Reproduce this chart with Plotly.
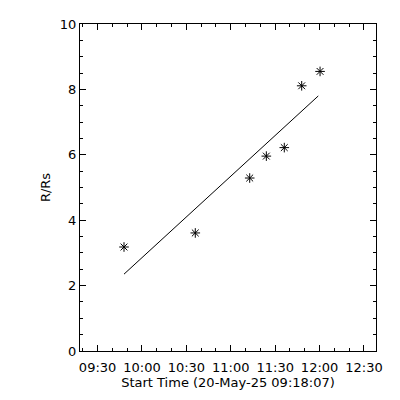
import plotly.graph_objects as go

# Data
obs_times = ["2025-05-20 09:47:51", "2025-05-20 10:36:01", "2025-05-20 11:12:47",
             "2025-05-20 11:24:01", "2025-05-20 11:36:09", "2025-05-20 11:47:55",
             "2025-05-20 12:00:19"]
obs_r = [3.18, 3.61, 5.29, 5.96, 6.22, 8.11, 8.55]

fit_times = ["2025-05-20 09:47:51", "2025-05-20 11:59:07"]
fit_r = [2.35, 7.80]

x_range = ["2025-05-20 09:18:07", "2025-05-20 12:38:07"]
y_range = [0, 10]
x_title = "Start Time (20-May-25 09:18:07)"
y_title = "R/Rs"

font = dict(family="DejaVu Sans", size=13, color="black")

fig = go.Figure()
fig.add_trace(go.Scatter(x=fit_times, y=fit_r, mode="lines",
                         line=dict(color="black", width=1), showlegend=False))
fig.add_trace(go.Scatter(x=obs_times, y=obs_r, mode="markers",
                         marker=dict(symbol="asterisk-open", size=8, color="black",
                                     line=dict(color="black", width=1)),
                         showlegend=False))

axis_common = dict(showgrid=False, zeroline=False, showline=True, linecolor="black",
                   linewidth=1, mirror="allticks", ticks="inside", ticklen=6,
                   tickcolor="black", tickwidth=1, tickfont=font)

fig.update_xaxes(type="date", range=x_range, tick0="2025-05-20 09:30:00",
                 dtick=30 * 60 * 1000, tickformat="%H:%M", ticklabelstandoff=4,
                 minor=dict(dtick=10 * 60 * 1000, ticks="inside", ticklen=3,
                            tickcolor="black", showgrid=False),
                 title=dict(text=x_title, font=font, standoff=2),
                 **axis_common)
fig.update_yaxes(range=y_range, dtick=2, tick0=0,
                 minor=dict(dtick=0.5, ticks="inside", ticklen=3,
                            tickcolor="black", showgrid=False),
                 title=dict(text=y_title, font=font, standoff=6),
                 **axis_common)

fig.update_layout(width=400, height=400, margin=dict(l=72, r=32, t=16, b=57, autoexpand=False),
                  plot_bgcolor="white", paper_bgcolor="white", font=font)

fig.write_html("out.html")
